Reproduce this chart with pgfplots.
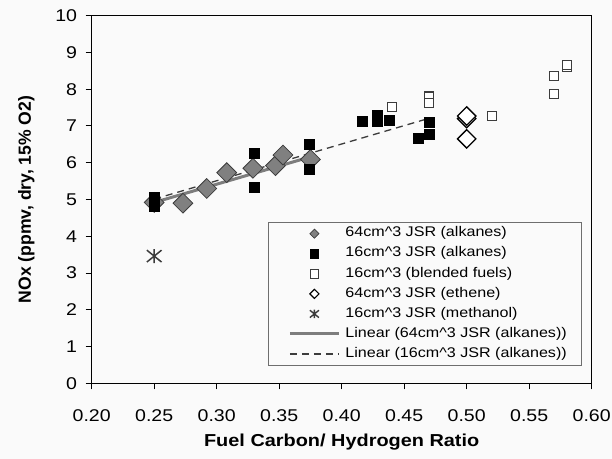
\documentclass[border=0pt]{standalone}
\usepackage{fontspec}
\setmainfont{Liberation Sans}[FakeStretch=1.15]
\newfontfamily\ylabfont{Liberation Sans}
\usepackage{pgfplots}
\pgfplotsset{compat=1.18}
\definecolor{bgc}{RGB}{250,250,250}
\definecolor{dgray}{RGB}{128,128,128}
\definecolor{edge}{RGB}{60,60,60}
\definecolor{lgray}{RGB}{125,125,125}
\definecolor{legbord}{RGB}{110,110,110}
\pgfdeclareplotmark{xstar}{%
 \pgfpathmoveto{\pgfqpoint{0pt}{\pgfplotmarksize}}%
 \pgfpathlineto{\pgfqpoint{0pt}{-\pgfplotmarksize}}%
 \pgfpathmoveto{\pgfqpoint{-1.05\pgfplotmarksize}{0.85\pgfplotmarksize}}%
 \pgfpathlineto{\pgfqpoint{1.05\pgfplotmarksize}{-0.85\pgfplotmarksize}}%
 \pgfpathmoveto{\pgfqpoint{-1.05\pgfplotmarksize}{-0.85\pgfplotmarksize}}%
 \pgfpathlineto{\pgfqpoint{1.05\pgfplotmarksize}{0.85\pgfplotmarksize}}%
 \pgfusepathqstroke}
\pgfplotsset{
 mkleg/.style={legend image code/.code={\path (0bp,0bp) (59bp,0bp); \draw[##1] plot coordinates {(29.5bp,0bp)};}},
 lnleg/.style={legend image code/.code={\path (0bp,0bp) (59bp,0bp); \draw[##1] (5bp,0bp) -- (54bp,0bp);}},
}
\begin{document}
\begin{tikzpicture}
\fill[bgc] (-91.7bp,-75.7bp) rectangle (520.3bp,383.3bp);
\useasboundingbox (-91.7bp,-75.7bp) rectangle (520.3bp,383.3bp);
\begin{axis}[
 at={(0,0)}, anchor=south west,
 width=500bp, height=367.6bp, scale only axis,
 xmin=0.2, xmax=0.6, ymin=0, ymax=10,
 xtick={0.2,0.25,0.3,0.35,0.4,0.45,0.5,0.55,0.6},
 xticklabels={0.20,0.25,0.30,0.35,0.40,0.45,0.50,0.55,0.60},
 ytick={0,1,2,3,4,5,6,7,8,9,10},
 yticklabels={0,1,2,3,4,5,6,7,8,9,10},
 tick align=outside, xtick pos=bottom, ytick pos=left,
 major tick length=6bp,
 tick style={black, line width=1bp},
 axis line style={black, line width=1.5bp},
 ticklabel style={font=\fontsize{17bp}{20bp}\selectfont},
 xticklabel style={inner sep=0pt, anchor=north, yshift=-20bp},
 yticklabel style={inner sep=0pt, anchor=east, xshift=-8.4bp},
 xlabel={\bfseries Fuel Carbon/ Hydrogen Ratio},
 xlabel style={at={(axis description cs:0.5,-0.1706)}, anchor=base, font=\fontsize{17.3bp}{20bp}\selectfont},
 ylabel={\ylabfont\bfseries NOx (ppmv, dry, 15\% O2)},
 ylabel style={at={(axis description cs:-0.1214,0.5)}, anchor=base, font=\fontsize{17.6bp}{20bp}\selectfont},
 legend style={
   at={(axis description cs:0.3526,0.4388)}, anchor=north west,
   draw=legbord, line width=0.8bp, fill=bgc,
   font=\fontsize{14bp}{16bp}\selectfont,
   inner xsep=15bp, inner ysep=4.5bp,
   row sep=6.57bp, column sep=0bp,
   nodes={inner sep=0bp, text height=10bp, text depth=3.5bp},
 },
 legend cell align=left,
]
% legend images
\addlegendimage{only marks, mark=square*, mark size=3.2bp, mark options={rotate=45, fill=dgray, draw=edge, line width=0.7bp}, mkleg}
\addlegendentry{64cm\textasciicircum 3 JSR (alkanes)}
\addlegendimage{only marks, mark=square*, mark size=4.3bp, mark options={fill=black, draw=black}, mkleg}
\addlegendentry{16cm\textasciicircum 3 JSR (alkanes)}
\addlegendimage{only marks, mark=square*, mark size=4.3bp, mark options={fill=white, draw=edge, line width=1.1bp}, mkleg}
\addlegendentry{16cm\textasciicircum 3 (blended fuels)}
\addlegendimage{only marks, mark=square*, mark size=3.2bp, mark options={rotate=45, fill=white, draw=black, line width=1.1bp}, mkleg}
\addlegendentry{64cm\textasciicircum 3 JSR (ethene)}
\addlegendimage{only marks, mark=xstar, mark size=4.3bp, mark options={draw=edge, line width=1.4bp}, mkleg}
\addlegendentry{16cm\textasciicircum 3 JSR (methanol)}
\addlegendimage{lgray, line width=3bp, lnleg}
\addlegendentry{Linear (64cm\textasciicircum 3 JSR (alkanes))}
\addlegendimage{edge, line width=1.3bp, dash pattern=on 7bp off 5bp, lnleg}
\addlegendentry{Linear (16cm\textasciicircum 3 JSR (alkanes))}

% 64cm^3 JSR (alkanes)
\addplot[forget plot, only marks, mark=square*, mark size=7bp, mark options={rotate=45, fill=dgray, draw=edge, line width=0.8bp}] coordinates {
 (0.250,4.92) (0.273,4.90) (0.292,5.30) (0.308,5.73) (0.329,5.85) (0.347,5.92) (0.353,6.21) (0.375,6.09)
};
% 16cm^3 JSR (alkanes)
\addplot[forget plot, only marks, mark=square*, mark size=5bp, mark options={fill=black, draw=black}] coordinates {
 (0.250,4.83) (0.250,4.97) (0.250,5.05)
 (0.330,6.26) (0.330,5.33) (0.374,6.50) (0.374,5.82)
 (0.416,7.12) (0.428,7.30) (0.428,7.13) (0.4376,7.15)
 (0.470,7.09) (0.470,6.78) (0.461,6.66)
};
% 16cm^3 (blended fuels)
\addplot[forget plot, only marks, mark=square*, mark size=4.5bp, mark options={fill=white, draw=edge, line width=1.2bp}] coordinates {
 (0.440,7.52) (0.470,7.80) (0.470,7.62) (0.520,7.27) (0.570,8.37) (0.570,7.87) (0.580,8.60) (0.580,8.66)
};
% 64cm^3 JSR (ethene)
\addplot[forget plot, only marks, mark=square*, mark size=6.5bp, mark options={rotate=45, fill=white, draw=black, line width=1.3bp}] coordinates {
 (0.500,6.65) (0.500,7.20) (0.500,7.27)
};
% 16cm^3 JSR (methanol)
\addplot[forget plot, only marks, mark=xstar, mark size=7bp, mark options={draw=edge, line width=1.5bp}] coordinates {
 (0.250,3.46)
};
% Linear trendlines
\addplot[forget plot, lgray, line width=3bp] coordinates {(0.250,4.92) (0.375,6.16)};
\addplot[forget plot, edge, line width=1.3bp, dash pattern=on 7bp off 5bp] coordinates {(0.250,5.01) (0.467,7.18)};
\end{axis}
\end{tikzpicture}
\end{document}
